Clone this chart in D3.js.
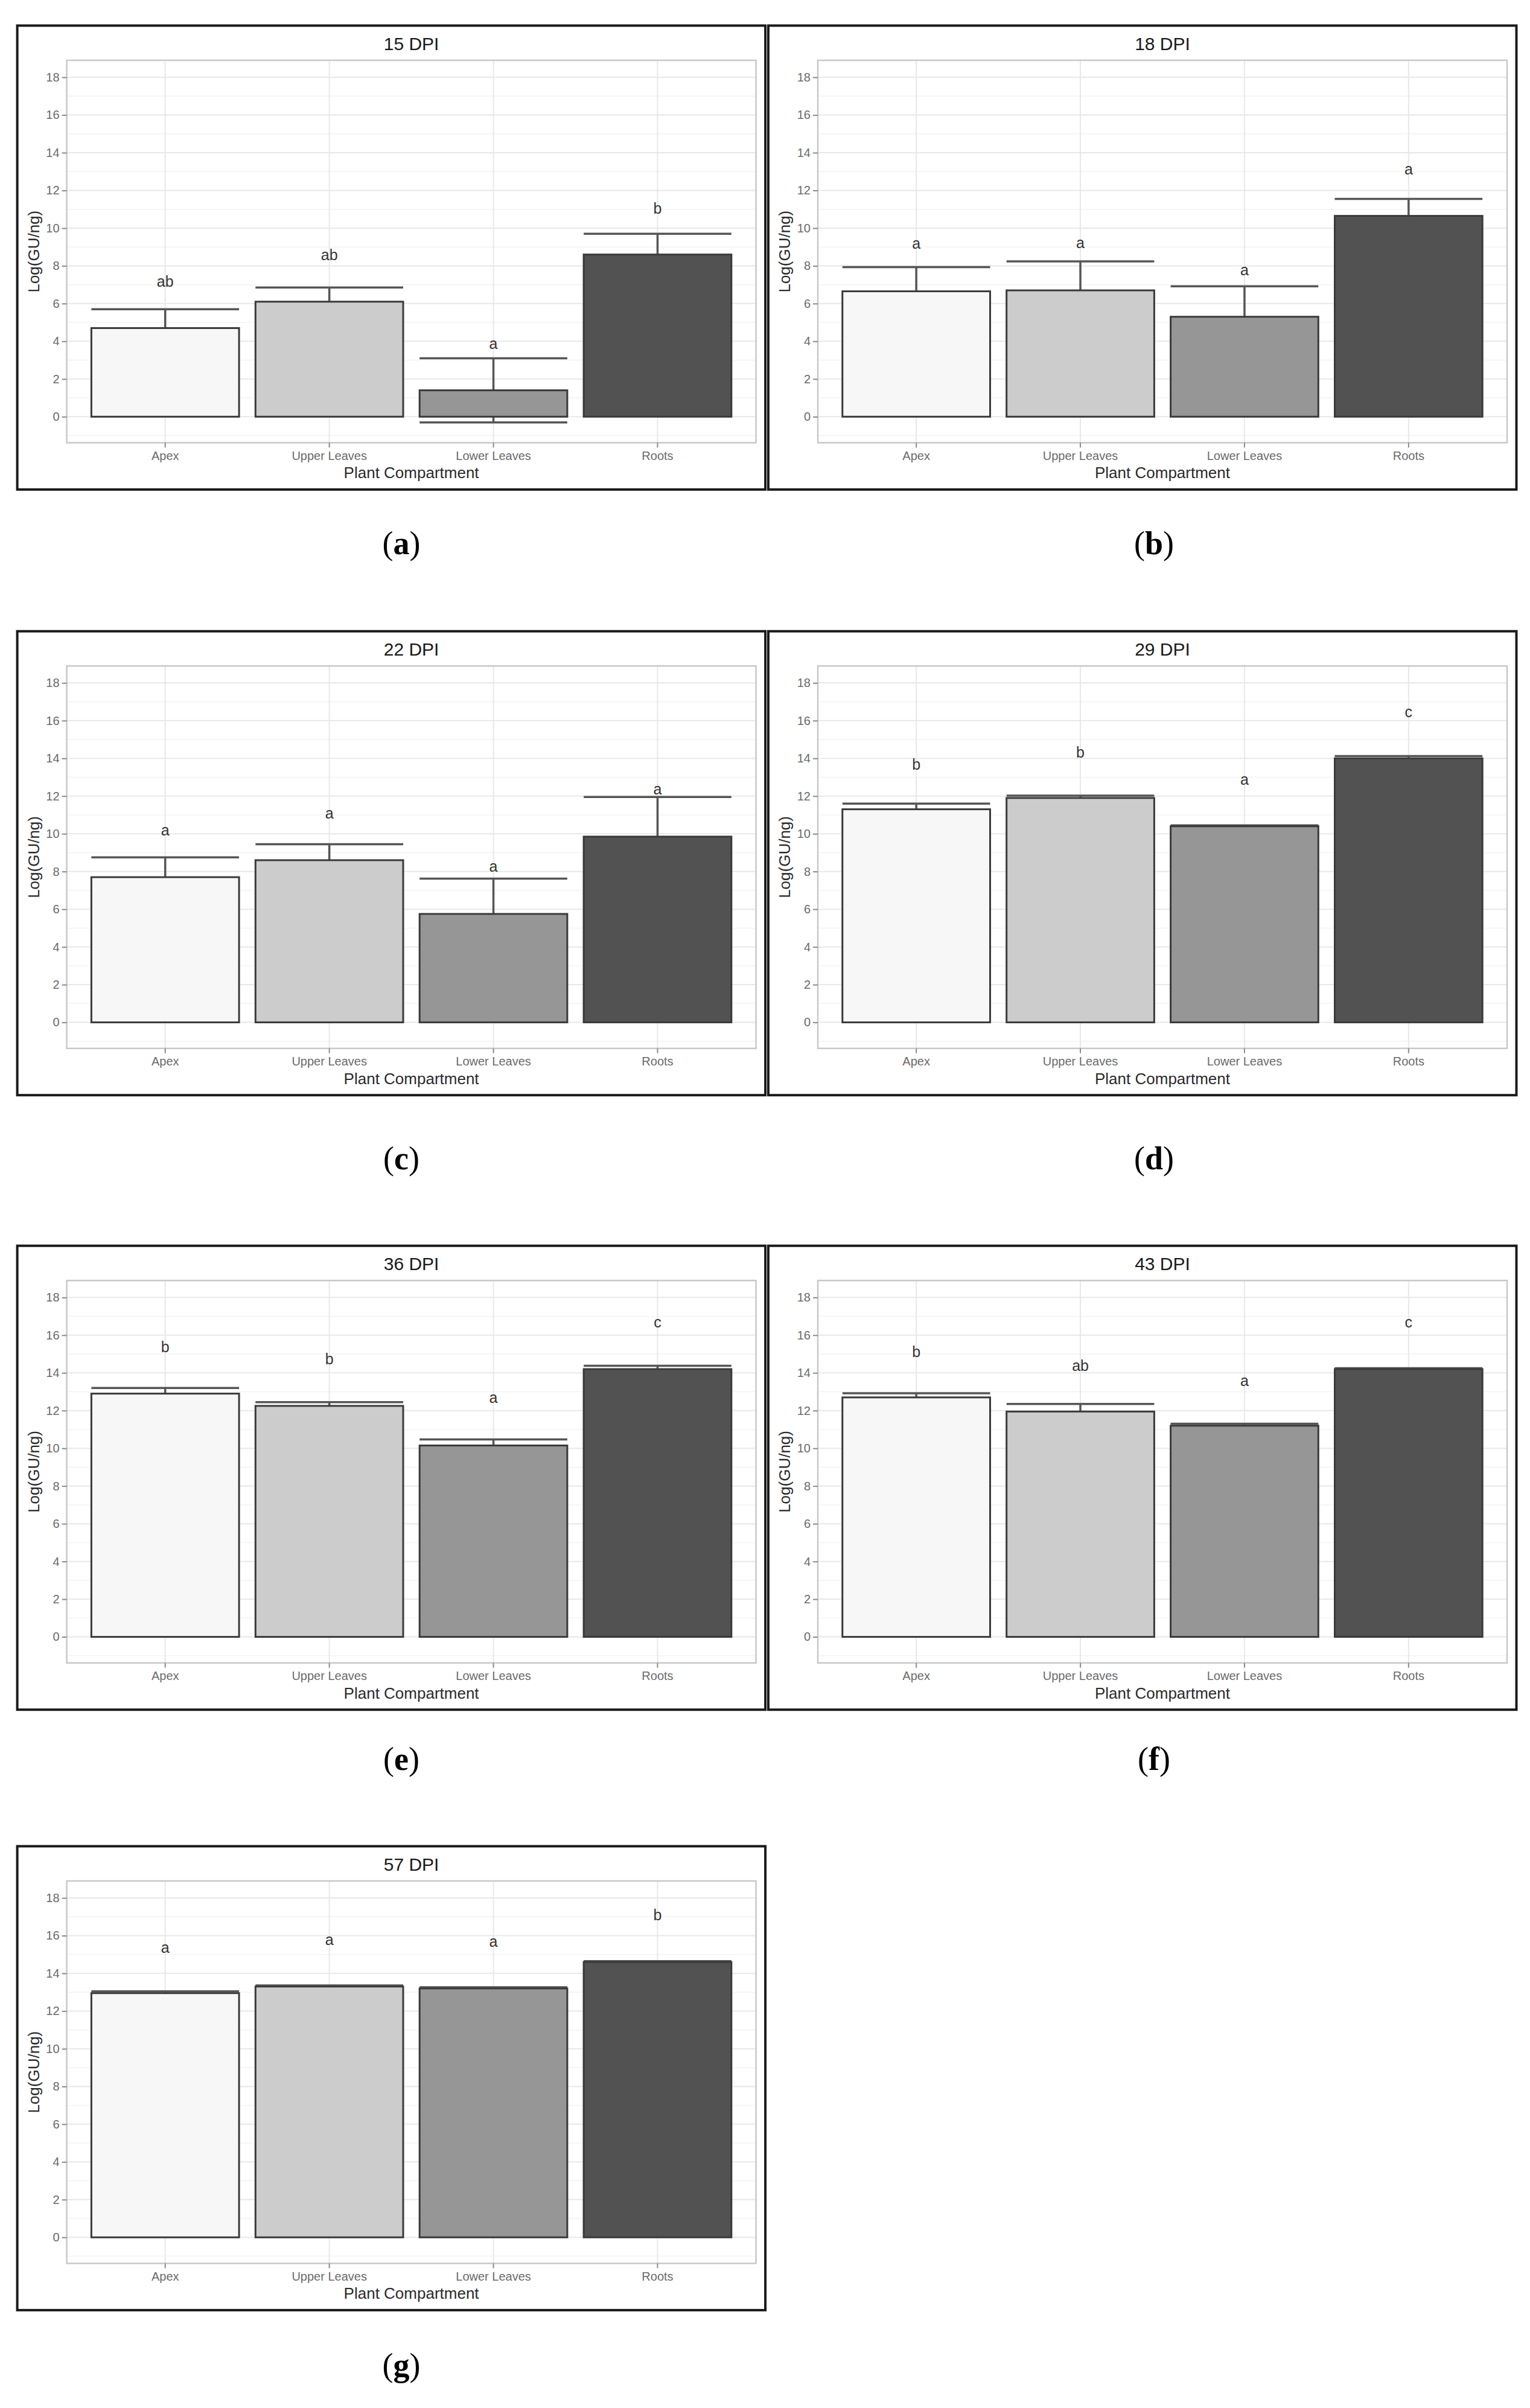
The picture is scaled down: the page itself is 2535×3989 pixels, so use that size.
<!DOCTYPE html>
<html>
<head>
<meta charset="utf-8">
<script src="https://cdn.jsdelivr.net/npm/d3@7"></script>
<style>
  body { margin: 0; background: #fff; }
  svg { display: block; }
</style>
</head>
<body>
<svg id="fig"></svg>
<script>
// data
const compartments = ["Apex", "Upper Leaves", "Lower Leaves", "Roots"];
const panelTitles = ["15 DPI", "18 DPI", "22 DPI", "29 DPI", "36 DPI", "43 DPI", "57 DPI"];
const panelTags = ["a", "b", "c", "d", "e", "f", "g"];
const means = [
  [4.7, 6.1, 1.4, 8.6],
  [6.65, 6.7, 5.3, 10.65],
  [7.7, 8.6, 5.75, 9.85],
  [11.3, 11.9, 10.4, 14.0],
  [12.9, 12.25, 10.15, 14.2],
  [12.7, 11.95, 11.2, 14.2],
  [12.95, 13.3, 13.2, 14.6]
];
const errors = [
  [1.0, 0.75, 1.7, 1.1],
  [1.28, 1.54, 1.62, 0.9],
  [1.05, 0.85, 1.87, 2.1],
  [0.3, 0.12, 0.05, 0.12],
  [0.3, 0.2, 0.32, 0.18],
  [0.22, 0.4, 0.1, 0.05],
  [0.1, 0.06, 0.06, 0.05]
];
const letters = [
  ["ab", "ab", "a", "b"],
  ["a", "a", "a", "a"],
  ["a", "a", "a", "a"],
  ["b", "b", "a", "c"],
  ["b", "b", "a", "c"],
  ["b", "ab", "a", "c"],
  ["a", "a", "a", "b"]
];
const letterHeights = [
  [6.9, 8.3, 3.6, 10.75],
  [8.9, 8.95, 7.5, 12.85],
  [9.9, 10.8, 8.0, 12.1],
  [13.4, 14.05, 12.6, 16.2],
  [15.1, 14.45, 12.4, 16.4],
  [14.85, 14.1, 13.3, 16.4],
  [15.1, 15.5, 15.4, 16.8]
];
const yTicks = [0, 2, 4, 6, 8, 10, 12, 14, 16, 18];
const yMinor = [-1, 1, 3, 5, 7, 9, 11, 13, 15, 17];
const barFills = ["#f7f7f7", "#cccccc", "#969696", "#525252"];

// layout
const W = 2535, H = 3989;
const colX = [28.6, 1273];
const rowY = [42.4, 1045.7, 2063.7, 3058.4];
const tagBase = [918, 1937, 2932, 3936];
const tagX = [665, 1912];
const frameW = 1239.5, frameH = 768.5;
const m = {left: 82, right: 15.5, top: 57.5, bottom: 77.5};
const pw = frameW - m.left - m.right;
const ph = frameH - m.top - m.bottom;
const sans = "'Liberation Sans', Arial, sans-serif";

const svg = d3.select("#fig").attr("width", W).attr("height", H);
svg.append("rect").attr("width", W).attr("height", H).attr("fill", "#fff");

const x = d3.scaleBand().domain(compartments).range([0, pw])
    .paddingInner(0.1).paddingOuter(0.15);
const y = d3.scaleLinear().domain([-1.38, 18.9]).range([ph, 0]);

panelTitles.forEach((title, i) => {
  const col = i % 2, row = Math.floor(i / 2);
  const g = svg.append("g").attr("transform", `translate(${colX[col]},${rowY[row]})`);

  // outer frame
  g.append("rect")
      .attr("width", frameW).attr("height", frameH)
      .attr("fill", "#fff").attr("stroke", "#1a1a1a").attr("stroke-width", 4);

  g.append("text")
      .attr("x", m.left + pw / 2).attr("y", 40.3)
      .attr("text-anchor", "middle")
      .style("font", `30px ${sans}`).attr("fill", "#1a1a1a")
      .text(title);

  const p = g.append("g").attr("transform", `translate(${m.left},${m.top})`);

  // grid
  p.append("g").selectAll("line").data(yMinor).join("line")
      .attr("x1", 0).attr("x2", pw)
      .attr("y1", d => y(d)).attr("y2", d => y(d))
      .attr("stroke", "#f3f3f3").attr("stroke-width", 1.5);
  p.append("g").selectAll("line").data(yTicks).join("line")
      .attr("x1", 0).attr("x2", pw)
      .attr("y1", d => y(d)).attr("y2", d => y(d))
      .attr("stroke", "#e8e8e8").attr("stroke-width", 2);
  p.append("g").selectAll("line").data(compartments).join("line")
      .attr("x1", d => x(d) + x.bandwidth() / 2).attr("x2", d => x(d) + x.bandwidth() / 2)
      .attr("y1", 0).attr("y2", ph)
      .attr("stroke", "#e8e8e8").attr("stroke-width", 2);

  const rows = compartments.map((c, j) => ({
    c, mean: means[i][j], se: errors[i][j], fill: barFills[j],
    letter: letters[i][j], ly: letterHeights[i][j]
  }));

  // error bars first, bars drawn over them
  const eb = p.append("g").attr("stroke", "#555").attr("stroke-width", 3.5).attr("fill", "none");
  rows.forEach(d => {
    const cx = x(d.c) + x.bandwidth() / 2;
    const lo = y(d.mean - d.se), hi = y(d.mean + d.se);
    eb.append("line").attr("x1", cx).attr("x2", cx).attr("y1", lo).attr("y2", hi);
    eb.append("line").attr("x1", x(d.c)).attr("x2", x(d.c) + x.bandwidth()).attr("y1", hi).attr("y2", hi);
    eb.append("line").attr("x1", x(d.c)).attr("x2", x(d.c) + x.bandwidth()).attr("y1", lo).attr("y2", lo);
  });

  p.append("g").selectAll("rect").data(rows).join("rect")
      .attr("x", d => x(d.c)).attr("width", x.bandwidth())
      .attr("y", d => y(d.mean)).attr("height", d => y(0) - y(d.mean))
      .attr("fill", d => d.fill)
      .attr("stroke", "#3a3a3a").attr("stroke-width", 3);

  p.append("g").selectAll("text").data(rows).join("text")
      .attr("x", d => x(d.c) + x.bandwidth() / 2)
      .attr("y", d => y(d.ly))
      .attr("text-anchor", "middle")
      .style("font", `25px ${sans}`).attr("fill", "#333")
      .text(d => d.letter);

  // panel border
  p.append("rect").attr("width", pw).attr("height", ph)
      .attr("fill", "none").attr("stroke", "#c8c8c8").attr("stroke-width", 2.5);

  // axes
  const ya = p.append("g")
      .call(d3.axisLeft(y).tickValues(yTicks).tickSize(8).tickPadding(4));
  const xa = p.append("g").attr("transform", `translate(0,${ph})`)
      .call(d3.axisBottom(x).tickSize(8).tickPadding(6));
  [ya, xa].forEach(a => {
    a.select(".domain").remove();
    a.selectAll(".tick line").attr("stroke", "#8a8a8a").attr("stroke-width", 2);
    a.selectAll(".tick text").attr("fill", "#6a6a6a")
        .style("font", `20px ${sans}`);
  });

  g.append("text")
      .attr("x", m.left + pw / 2).attr("y", m.top + ph + 59)
      .attr("text-anchor", "middle")
      .style("font", `26px ${sans}`).attr("fill", "#2a2a2a")
      .text("Plant Compartment");

  g.append("text")
      .attr("transform", `translate(27,${m.top + ph / 2}) rotate(-90)`)
      .attr("dy", "0.35em")
      .attr("text-anchor", "middle")
      .style("font", `26px ${sans}`).attr("fill", "#2a2a2a")
      .text("Log(GU/ng)");

  // sub-figure tag
  const tag = svg.append("text")
      .attr("x", tagX[col]).attr("y", tagBase[row])
      .attr("text-anchor", "middle")
      .style("font", "54px 'Liberation Serif', 'Times New Roman', serif")
      .attr("fill", "#000");
  tag.append("tspan").text("(");
  tag.append("tspan").attr("font-weight", "bold").text(panelTags[i]);
  tag.append("tspan").text(")");
});
</script>
</body>
</html>
